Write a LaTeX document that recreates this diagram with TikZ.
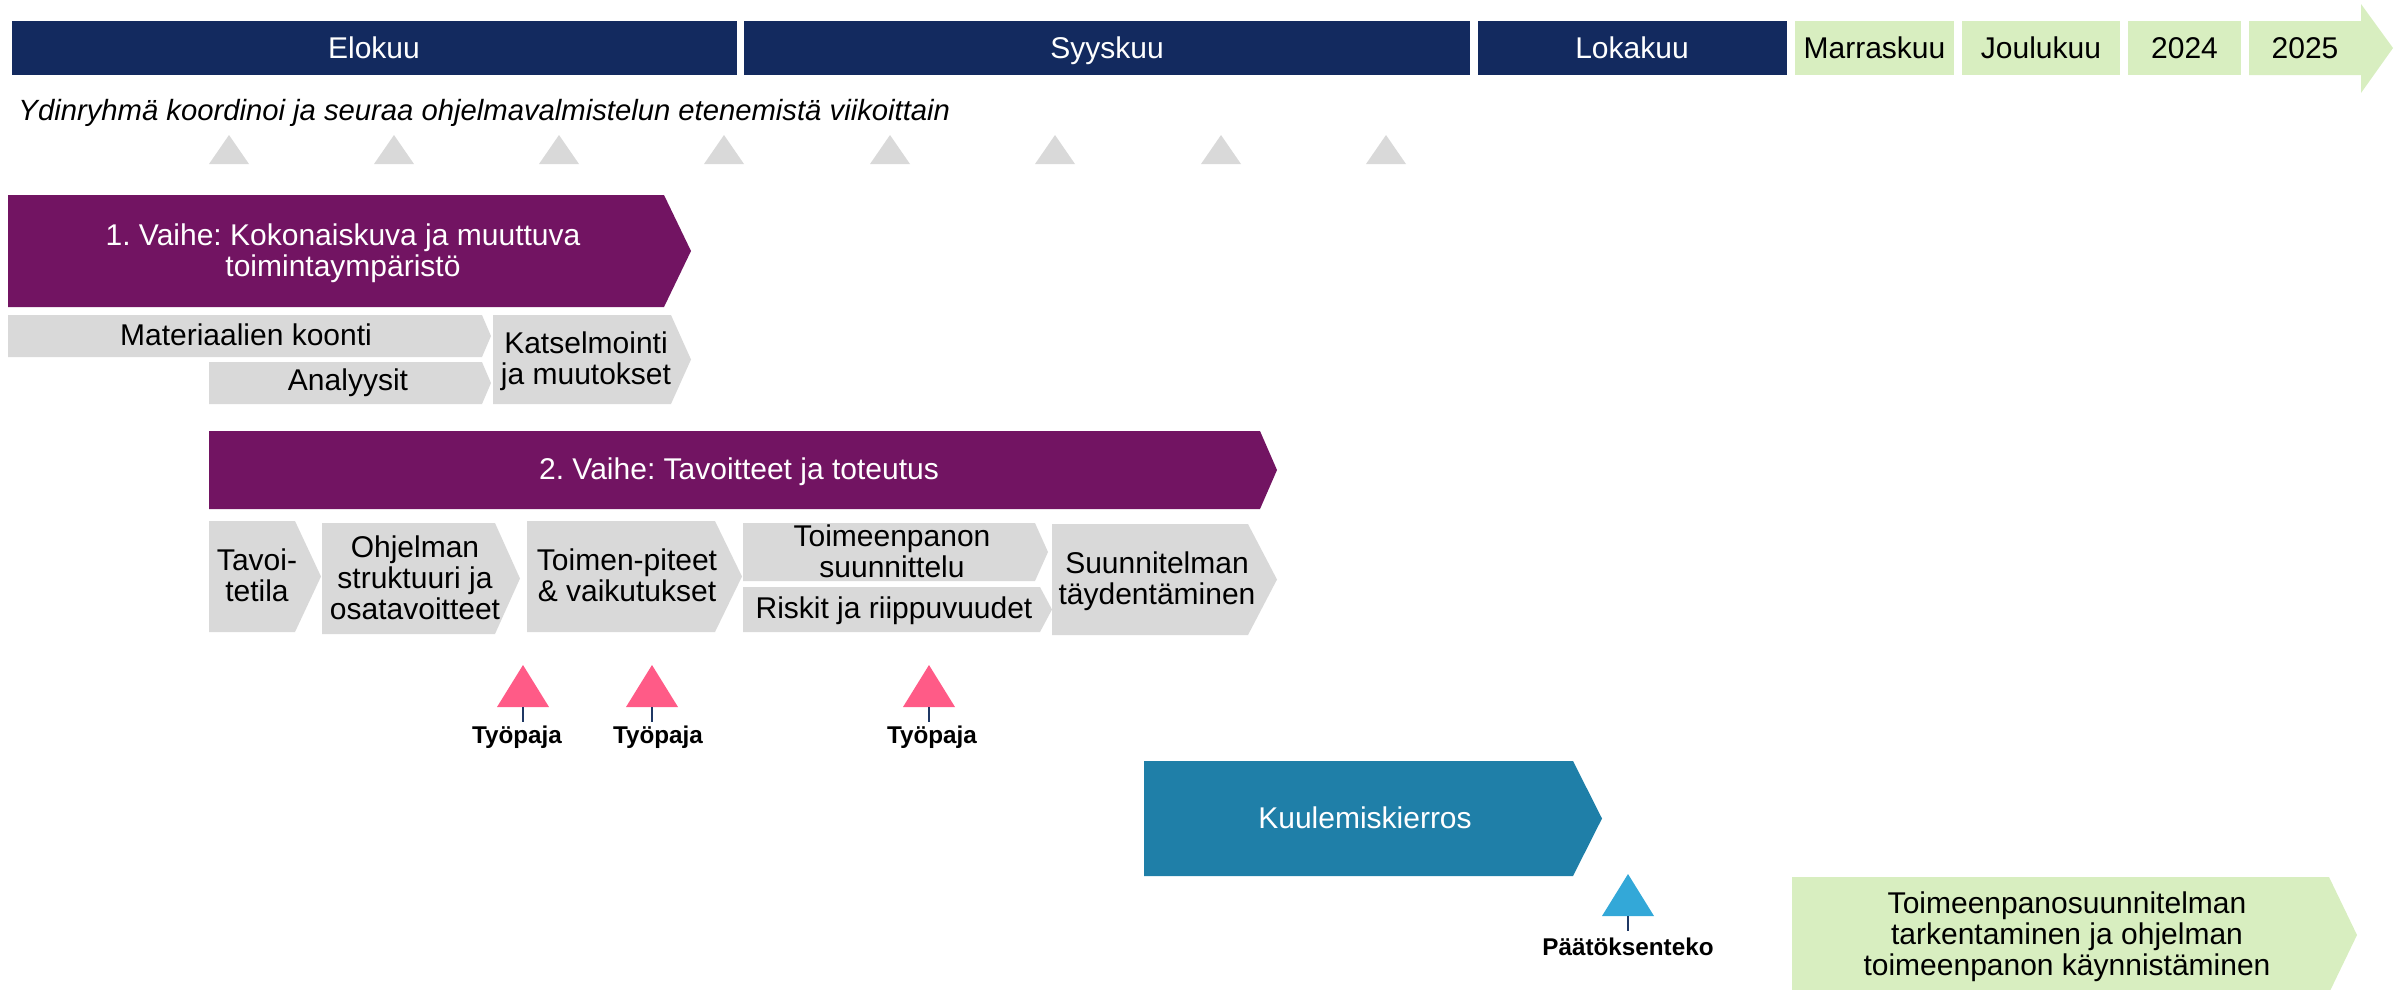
\documentclass[tikz,border=0pt]{standalone}
\usepackage{fontspec}
\setmainfont{Liberation Sans}
\frenchspacing
\definecolor{navy}{HTML}{132A5F}
\definecolor{plum}{HTML}{721462}
\definecolor{lgrey}{HTML}{D9D9D9}
\definecolor{lgreen}{HTML}{D8EEC0}
\definecolor{teal}{HTML}{1F7FA8}
\definecolor{rosy}{HTML}{FF5B87}
\definecolor{sky}{HTML}{33A8D8}
\definecolor{stemc}{HTML}{1F3864}
\newcommand{\stk}[1]{\vtop{\halign{\hfil##\hfil\cr#1\crcr}}}
\newcommand{\chev}[6]{\fill[#1] (#2,#3) -- (#4,#3) -- (#6,{(#3+#5)/2}) -- (#4,#5) -- (#2,#5) -- cycle;}
\begin{document}
\begin{tikzpicture}[x=0.4pt,y=-0.4pt,
  txt/.style={inner sep=0pt, anchor=base, font=\fontsize{12}{12.4}\selectfont},
  wtxt/.style={txt, text=white},
  lbl/.style={inner sep=0pt, anchor=base, font=\fontsize{9.7}{11}\selectfont\bfseries},
  stem/.style={draw=stemc, line width=0.5pt}]
\useasboundingbox (0,0) rectangle (2407,989);
\clip (0,0) rectangle (2407,989);
% month bar
\fill[navy] (11.5,21) rectangle (737,75);
\fill[navy] (744,21) rectangle (1470,75);
\fill[navy] (1478,21) rectangle (1787,75);
\fill[lgreen] (1795,21) rectangle (1954,75);
\fill[lgreen] (1962,21) rectangle (2120,75);
\fill[lgreen] (2128,21) rectangle (2241,75);
\fill[lgreen] (2249,21) -- (2361,21) -- (2361,4) -- (2393,48) -- (2361,93) -- (2361,75) -- (2249,75) -- cycle;
\node[wtxt] (m1) at (374,58) {Elokuu};
\node[wtxt] (m2) at (1107,58) {Syyskuu};
\node[wtxt] (m3) at (1632,58) {Lokakuu};
\node[txt] (m4) at (1874.5,58) {Marraskuu};
\node[txt] (m5) at (2041,58) {Joulukuu};
\node[txt] (m6) at (2184.5,58) {2024};
\node[txt] (m7) at (2305,58) {2025};
% weekly line
\node[txt, anchor=base west, font=\fontsize{11.7}{12.4}\selectfont\itshape] (ydin) at (18,120) {Ydinryhmä koordinoi ja seuraa ohjelmavalmistelun etenemistä viikoittain};
\foreach \cx in {229,394,559,724,890,1055,1221,1386}
  \fill[lgrey] (\cx-20,164) -- (\cx,135) -- (\cx+20,164) -- cycle;
% phase 1
\chev{plum}{8}{195}{664}{307}{691}
\node[wtxt] (p1) at (343,245) {\stk{1. Vaihe: Kokonaiskuva ja muuttuva\cr toimintaympäristö}};
\chev{lgrey}{8}{315}{482}{357}{491}
\node[txt] (mat) at (246,345) {Materiaalien koonti};
\chev{lgrey}{209}{362}{482}{404}{491}
\node[txt] (ana) at (348,390) {Analyysit};
\chev{lgrey}{493}{315}{671}{404}{691}
\node[txt] (kat) at (586,353) {\stk{Katselmointi\cr ja muutokset}};
% phase 2
\chev{plum}{209}{431}{1260}{509}{1277}
\node[wtxt] (p2) at (739,479) {2. Vaihe: Tavoitteet ja toteutus};
\chev{lgrey}{209}{521}{295}{632}{321}
\node[txt] (tav) at (257,570) {\stk{Tavoi-\cr tetila}};
\chev{lgrey}{322}{523}{495}{634}{520}
\node[txt] (ohj) at (415,557) {\stk{Ohjelman\cr struktuuri ja\cr osatavoitteet}};
\chev{lgrey}{527}{521}{715}{632}{742}
\node[txt] (toi) at (627,570) {\stk{Toimen-piteet\cr \& vaikutukset}};
\chev{lgrey}{743}{523}{1035}{581}{1048}
\node[txt] (tps) at (892,546) {\stk{Toimeenpanon\cr suunnittelu}};
\chev{lgrey}{743}{587}{1040}{632}{1052}
\node[txt] (ris) at (894,618) {Riskit ja riippuvuudet};
\chev{lgrey}{1052}{524}{1248}{635}{1277}
\node[txt] (suu) at (1157,573) {\stk{Suunnitelman\cr täydentäminen}};
% workshops
\foreach \cx/\lx/\nm in {523/517/w1,652/658/w2,929/932/w3}{
  \fill[rosy] (\cx-26,707) -- (\cx,665) -- (\cx+26,707) -- cycle;
  \coordinate (\nm s) at (\cx,707);
  \coordinate (\nm e) at (\cx,722);
  \draw[stem] (\nm s) -- (\nm e);
  \node[lbl] (\nm) at (\lx,743) {Työpaja};
}
% consultation
\chev{teal}{1144}{761}{1573}{876}{1602}
\node[wtxt] (kuu) at (1365,828) {Kuulemiskierros};
\fill[sky] (1602,916) -- (1628,874) -- (1654,916) -- cycle;
\coordinate (ps) at (1628,916);
\coordinate (pe) at (1628,931);
\draw[stem] (ps) -- (pe);
\node[lbl] (paa) at (1628,955) {Päätöksenteko};
% implementation
\chev{lgreen}{1792}{877}{2329}{993}{2357}
\node[txt] (imp) at (2067,913) {\stk{Toimeenpanosuunnitelman\cr tarkentaminen ja ohjelman\cr toimeenpanon käynnistäminen}};
\end{tikzpicture}
\end{document}
